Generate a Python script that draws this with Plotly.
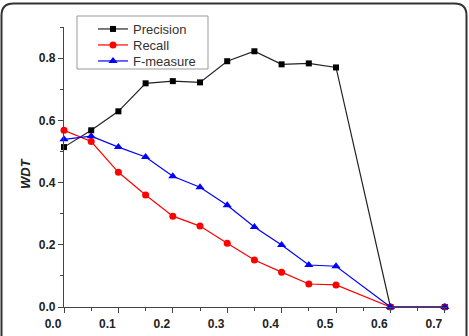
import plotly.graph_objects as go

threshold = [0.0, 0.05, 0.1, 0.15, 0.2, 0.25, 0.3, 0.35, 0.4, 0.45, 0.5, 0.6, 0.7]
precision = [0.514, 0.568, 0.629, 0.719, 0.726, 0.722, 0.790, 0.822, 0.780, 0.783, 0.770, 0.0, 0.0]
recall = [0.568, 0.532, 0.433, 0.360, 0.292, 0.260, 0.205, 0.151, 0.112, 0.074, 0.071, 0.0, 0.0]
fmeasure = [0.539, 0.549, 0.514, 0.482, 0.420, 0.385, 0.327, 0.257, 0.199, 0.135, 0.131, 0.0, 0.0]

W, H = 469, 336
L, R, T, B = 64, 22, 27, 29
XMAX, YMAX = 0.704, 0.9

fig = go.Figure()
fig.add_trace(go.Scatter(x=threshold, y=precision, name="Precision", mode="lines+markers",
                         line=dict(color="#222222", width=1.2), legend="legend",
                         marker=dict(symbol="square", size=6, color="#000000"), cliponaxis=False))
fig.add_trace(go.Scatter(x=threshold, y=recall, name="Recall", mode="lines+markers",
                         line=dict(color="#ff0000", width=1.2), legend="legend2",
                         marker=dict(symbol="circle", size=7, color="#ff0000"), cliponaxis=False))
fig.add_trace(go.Scatter(x=threshold, y=fmeasure, name="F-measure", mode="lines+markers",
                         line=dict(color="#0000ff", width=1.2), legend="legend3",
                         marker=dict(symbol="triangle-up", size=8, color="#0000ff"), cliponaxis=False))

pw, ph = W - L - R, H - T - B
def px(x):
    return (x - L) / pw
def py(y):
    return (H - B - y) / ph

# rounded screenshot frame
x0, y0, x1, y1, r = 1.5, 3.5, 466.5, 345, 12
path = (f"M {px(x0)},{py(y0 + r)} L {px(x0)},{py(y1)} M {px(x1)},{py(y1)} L {px(x1)},{py(y0 + r)} "
        f"Q {px(x1)},{py(y0)} {px(x1 - r)},{py(y0)} L {px(x0 + r)},{py(y0)} "
        f"Q {px(x0)},{py(y0)} {px(x0)},{py(y0 + r)}")

def leg(yc):
    return dict(x=px(93), y=py(yc), xanchor="left", yanchor="middle",
                borderwidth=0, bgcolor="rgba(0,0,0,0)",
                font=dict(size=13, color="#333333"))

fig.update_layout(
    width=W, height=H,
    margin=dict(l=L, r=R, t=T, b=B, autoexpand=False),
    paper_bgcolor="white", plot_bgcolor="white",
    font=dict(family="Liberation Sans, Arial", color="#222222"),
    showlegend=True,
    legend=leg(29), legend2=leg(45), legend3=leg(61),
    xaxis=dict(range=[0, XMAX], showgrid=False, zeroline=False, showline=True,
               linecolor="#444444", linewidth=1.2, ticks="outside", ticklen=5, tickwidth=1.2,
               tickcolor="#444444", dtick=0.1, tick0=0, tickformat=".1f",
               tickfont=dict(size=12, family="Liberation Sans, Arial", weight="bold", color="#222222"),
               ticklabelshift=-11,
               minor=dict(dtick=0.05, ticks="outside", ticklen=3, tickcolor="#444444")),
    yaxis=dict(range=[0, YMAX], showgrid=False, zeroline=False, showline=True,
               linecolor="#444444", linewidth=1.2, ticks="outside", ticklen=5, tickwidth=1.2,
               tickcolor="#444444", dtick=0.2, tick0=0, tickformat=".1f",
               tickfont=dict(size=12, family="Liberation Sans, Arial", weight="bold", color="#222222"),
               minor=dict(dtick=0.1, ticks="outside", ticklen=3, tickcolor="#444444")),
    annotations=[dict(text="<b><i>WDT</i></b>", xref="paper", yref="paper",
                      x=px(25), y=py(174), xanchor="center", yanchor="middle",
                      textangle=-90, showarrow=False, font=dict(size=13, color="#222222"))],
    shapes=[dict(type="path", path=path, xref="paper", yref="paper",
                 line=dict(color="#333333", width=2), layer="above"),
            dict(type="rect", xref="paper", yref="paper",
                 x0=px(77), x1=px(208), y0=py(16), y1=py(69),
                 line=dict(color="#999999", width=1), fillcolor="white", layer="below")],
)

fig.write_html("out.html")
